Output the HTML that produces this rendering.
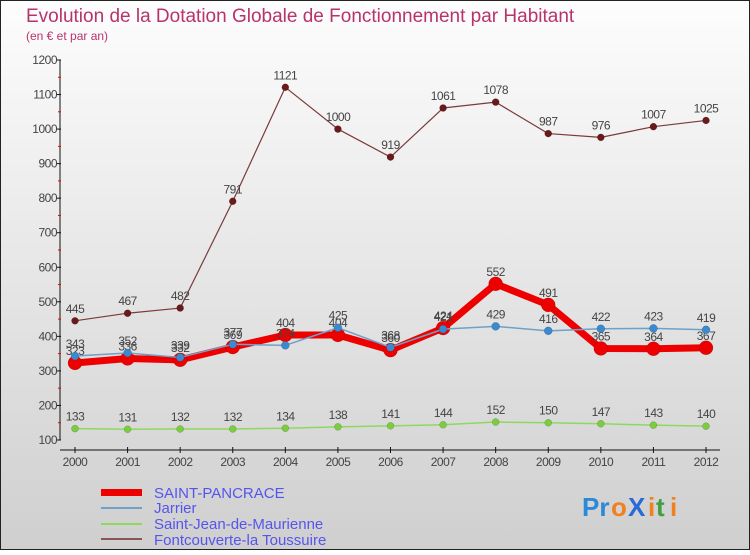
<!DOCTYPE html>
<html><head><meta charset="utf-8">
<style>
html,body{margin:0;padding:0;}
body{width:750px;height:550px;overflow:hidden;font-family:"Liberation Sans",sans-serif;}
svg text{font-family:"Liberation Sans",sans-serif;}
</style></head>
<body>
<svg id="chart" width="750" height="550" xmlns="http://www.w3.org/2000/svg">
<defs>
<linearGradient id="bg" x1="0" y1="0" x2="0" y2="1">
<stop offset="0" stop-color="#fdfdfd"/><stop offset="1" stop-color="#cfcfcf"/>
</linearGradient>
</defs>
<rect x="0.5" y="0.5" width="749" height="549" fill="url(#bg)" stroke="#222" stroke-width="1"/>
<text x="26" y="22" font-size="19" fill="#b8336a">Evolution de la Dotation Globale de Fonctionnement par Habitant</text>
<text x="26" y="40" font-size="12" fill="#b8336a">(en € et par an)</text>
<g id="axes"></g>
<g id="series"></g>
<g id="legend">
<rect x="101" y="489" width="41" height="7" fill="#e00"/>
<text x="154" y="498" font-size="15" fill="#5555ee">SAINT-PANCRACE</text>
<line x1="101" y1="508" x2="142" y2="508" stroke="#6fa0c8" stroke-width="2"/>
<text x="154" y="513" font-size="15" fill="#5555ee">Jarrier</text>
<line x1="101" y1="524" x2="142" y2="524" stroke="#8fd860" stroke-width="2"/>
<text x="154" y="529" font-size="15" fill="#5555ee">Saint-Jean-de-Maurienne</text>
<line x1="101" y1="539" x2="142" y2="539" stroke="#8a5555" stroke-width="2"/>
<text x="154" y="545" font-size="15" fill="#5555ee">Fontcouverte-la Toussuire</text>
</g>
<g font-size="26" font-weight="bold">
<text x="582" y="516" fill="#2a8ad8">Pr</text><text x="611" y="516" fill="#f08020">o</text><text x="628" y="516" fill="#2a6ad8">X</text><text x="648" y="516" fill="#f08020">i</text><text x="656" y="516" fill="#40a040">t</text><text x="670" y="516" fill="#f08020">i</text>
</g>
</svg>
<script>
const years=[2000,2001,2002,2003,2004,2005,2006,2007,2008,2009,2010,2011,2012];
const yTicks=[100,200,300,400,500,600,700,800,900,1000,1100,1200];
const saintPancrace=[323,336,332,369,404,404,360,424,552,491,365,364,367];
const jarrier=[343,352,339,377,374,425,368,421,429,416,422,423,419];
const saintJean=[133,131,132,132,134,138,141,144,152,150,147,143,140];
const fontcouverte=[445,467,482,791,1121,1000,919,1061,1078,987,976,1007,1025];
const NS="http://www.w3.org/2000/svg";
function xS(i){return 75+i*(706-75)/(years.length-1);}
function yS(v){return 440-(v-100)*380/1100;}
function mk(tag,attrs,parent){const e=document.createElementNS(NS,tag);for(const k in attrs)e.setAttribute(k,attrs[k]);parent.appendChild(e);return e;}
const axes=document.getElementById('axes');
const yAxis=mk('line',{x1:60,y1:yS(1200),x2:60,y2:yS(100),stroke:'#111','stroke-width':1},axes);


yTicks.forEach(t=>{
  const tk=mk('line',{x1:56,y1:yS(t),x2:61,y2:yS(t),stroke:'#111'},axes);
  
  
  const lb=mk('text',{x:57,y:yS(t)+4,'font-size':12,fill:'#444','text-anchor':'end','letter-spacing':'-0.5'},axes);
  lb.textContent=t;
  
  
  if(t<1200){const m=mk('line',{x1:58,y1:yS(t+50),x2:61,y2:yS(t+50),stroke:'#e00'},axes);
  
  }
});
const xAxis=mk('line',{x1:60,y1:450,x2:720,y2:450,stroke:'#111'},axes);


years.forEach((y,i)=>{
  const tk=mk('line',{x1:xS(i),y1:447,x2:xS(i),y2:453,stroke:'#111'},axes);
  
  
  const lb=mk('text',{x:xS(i),y:466,'font-size':12,fill:'#444','text-anchor':'middle','letter-spacing':'-0.5'},axes);
  lb.textContent=y;
  
  
});
const sg=document.getElementById('series');
function drawSeries(vals,name,color,width,r,dotColor){
  const g=mk('g',{},sg);
  
  
  const pts=vals.map((v,i)=>xS(i)+','+yS(v)).join(' ');
  const pl=mk('polyline',{points:pts,fill:'none',stroke:color,'stroke-width':width,'stroke-linejoin':'round'},g);
  
  
  vals.forEach((v,i)=>{
    const c=mk('circle',{cx:xS(i),cy:yS(v),r:r,fill:dotColor,stroke:'rgba(0,0,0,0.25)','stroke-width':0.5},g);
    
    
    const t=mk('text',{x:xS(i),y:yS(v)-8,'font-size':12,fill:'#444','text-anchor':'middle','letter-spacing':'-0.5'},g);
    t.textContent=v;
    
    
  });
}
drawSeries(fontcouverte,'fontcouverte','#7a3a3a',1.2,3.5,'#6a1a1a');
drawSeries(saintJean,'saint-jean','#8fd860',1.5,3.5,'#7acc40');
drawSeries(saintPancrace,'saint-pancrace','#ee0000',7,7,'#ee0000');
drawSeries(jarrier,'jarrier','#6fa0c8',1.5,4,'#3a8ad0');
</script>
</body></html>
